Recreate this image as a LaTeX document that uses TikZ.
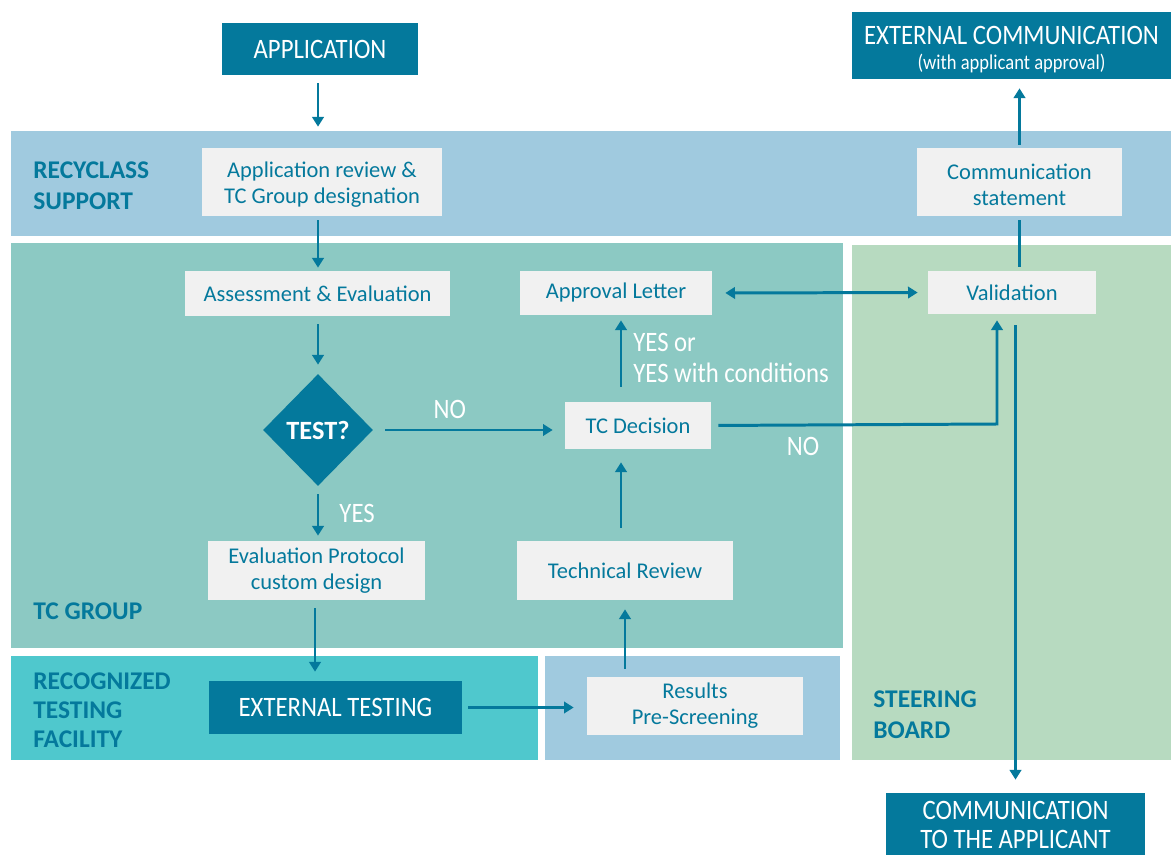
\documentclass[tikz,border=0pt]{standalone}
\usepackage{fontspec}
\setmainfont{Carlito}
\newfontfamily\condfont[FakeStretch=0.88]{Carlito}
\usetikzlibrary{shapes.geometric,arrows.meta,positioning,calc}
\definecolor{rcdark}{HTML}{04799C}
\definecolor{rcsupport}{HTML}{A0CADF}
\definecolor{rctc}{HTML}{8CC9C3}
\definecolor{rcsteer}{HTML}{B7DAC0}
\definecolor{rctest}{HTML}{4FC8CD}
\definecolor{rcbox}{HTML}{F1F1F1}

\begin{document}
\begin{tikzpicture}[x=0.02cm,y=-0.02cm,
	box/.style={fill=rcbox, text=rcdark, align=center, inner sep=0pt, font=\fontsize{12.8}{14.7}\selectfont},
	dark/.style={fill=rcdark, text=white, align=center, inner sep=0pt, font=\condfont\fontsize{16}{17}\selectfont},
	lane/.style={text=rcdark, align=left, anchor=west, inner sep=0pt, font=\bfseries\fontsize{14.5}{17.4}\selectfont},
	say/.style={text=white, align=left, inner sep=0pt, font=\condfont\fontsize{16}{17.6}\selectfont},
	>={Triangle[width=6.5pt,length=5.5pt]},
	flow/.style={draw=rcdark, line width=1.7pt, ->, shorten <=0.16cm, shorten >=0.18cm}]
	\useasboundingbox (0,0) rectangle (1171,855);
	% lanes
	\fill[rcsupport] (11,131) rectangle (1171,236);
	\fill[rctc] (11,243) rectangle (843,648);
	\fill[rcsteer] (852,245) rectangle (1171,760);
	\fill[rctest] (11,656) rectangle (538,760);
	\fill[rcsupport] (545,656) rectangle (840,760);
	\node[lane] (lsupport) at (33,186) {RECYCLASS\\SUPPORT};
	\node[lane] (ltc) at (33,611) {TC GROUP};
	\node[lane, font=\bfseries\fontsize{14.5}{16.4}\selectfont] (ltest) at (33,710) {RECOGNIZED\\TESTING\\FACILITY};
	\node[lane] (lsteer) at (873,715) {STEERING\\BOARD};
	% outside boxes
	\node[dark, minimum width=3.92cm, minimum height=1.04cm] (app) at (320,49) {APPLICATION};
	\node[dark, minimum width=6.38cm, minimum height=1.34cm] (extcom) at (1011.5,45.5)
		{\rule{0pt}{15pt}EXTERNAL COMMUNICATION\\[-3pt]{\fontsize{12}{13}\selectfont (with applicant approval)}};
	\node[dark, minimum width=5.18cm, minimum height=1.28cm] (commapp) at (1015.5,825) {COMMUNICATION\\TO THE APPLICANT};
	% steps
	\node[box, minimum width=4.8cm, minimum height=1.36cm] (review) at (322,182) {\rule{0pt}{12pt}Application review \&\\TC Group designation};
	\node[box, minimum width=4.1cm, minimum height=1.36cm] (commst) at (1019.5,182) {\rule{0pt}{12pt}Communication\\statement};
	\node[box, minimum width=5.3cm, minimum height=0.9cm] (assess) at (317.5,293.5) {Assessment \& Evaluation};
	\node[dark, diamond, minimum width=2.2cm, minimum height=2.24cm, font=\bfseries\fontsize{15}{18}\selectfont] (test) at (318,430) {TEST?};
	\node[box, minimum width=4.34cm, minimum height=1.18cm] (evalp) at (316.5,570.5) {Evaluation Protocol\\custom design};
	\node[dark, minimum width=5.06cm, minimum height=1.06cm] (exttest) at (335.5,707.5) {EXTERNAL TESTING};
	\node[box, minimum width=4.32cm, minimum height=1.16cm] (results) at (695,706) {Results\\Pre-Screening};
	\node[box, minimum width=4.32cm, minimum height=1.18cm] (techrev) at (625,570.5) {Technical Review};
	\node[box, minimum width=2.92cm, minimum height=0.94cm] (tcdec) at (638,425.5) {TC Decision};
	\node[box, minimum width=3.84cm, minimum height=0.88cm] (approval) at (616,293) {Approval Letter};
	\node[box, minimum width=3.36cm, minimum height=0.86cm] (valid) at (1012,292.5) {Validation};
	\coordinate (vbend) at (997,424);
	% connectors
	\draw[flow, shorten >=0.42cm] (app.south -| test) -- (review.north -| test);
	\draw[flow, shorten <=0.08cm, shorten >=0.06cm] (review.south -| test) -- (assess.north -| test);
	\draw[flow] (assess.south -| test) -- (test.north);
	\draw[flow, shorten >=0.1cm] (test.south) -- (evalp.north -| test) node[say, pos=0.5, right=0.4cm] (lyes) {YES};
	\draw[flow] (evalp.south -| 315,0) -- (exttest.north -| 315,0);
	\draw[flow, shorten <=0.12cm, shorten >=0.26cm] (exttest.east) -- (exttest.east -| results.west);
	\draw[flow] (results.north -| techrev) -- (techrev.south);
	\draw[flow, shorten <=0.26cm, shorten >=0.26cm] (techrev.north -| 621,0) -- (tcdec.south -| 621,0);
	\draw[flow, shorten <=0.3cm, shorten >=0.1cm] (tcdec.north -| 621,0) -- (approval.south -| 621,0);
	\node[say, anchor=west] (lyescond) at (633,358) {YES or\\YES with conditions};
	\draw[flow, shorten <=0.24cm, shorten >=0.24cm] (test.east) -- (test.east -| tcdec.west) node[say, pos=0.4, above=0.2cm] (lno) {NO};
	\draw[flow, <->, shorten <=0.26cm, shorten >=0.2cm] (approval.east) -- (valid.west);
	\draw[flow, shorten <=0.14cm, shorten >=0.12cm] (tcdec.east) -- (vbend) -- (valid.south -| vbend);
	\node[say] (lno2) at (803,446) {NO};
	\draw[flow, -, shorten <=0.08cm, shorten >=0.08cm] (valid.north -| commst) -- (commst.south);
	\draw[flow, shorten <=0.06cm] (commst.north) -- (commst.north |- extcom.south);
	\draw[flow, shorten <=0.22cm, shorten >=0.26cm] (valid.south -| commapp) -- (commapp.north);
\end{tikzpicture}
\end{document}
